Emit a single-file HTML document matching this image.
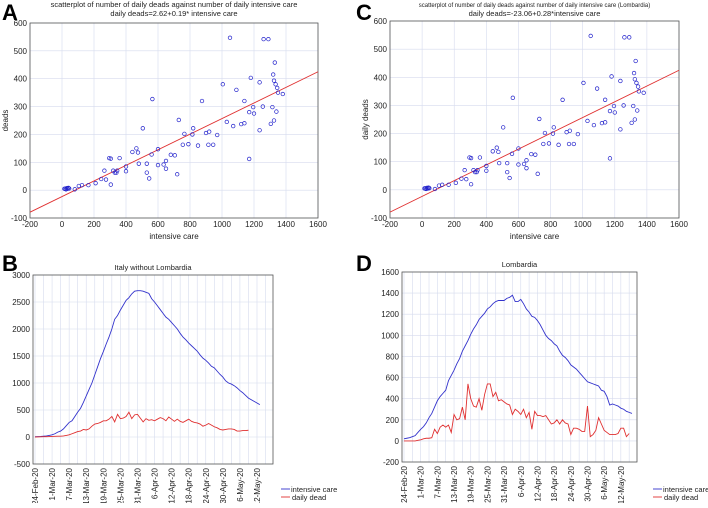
<!DOCTYPE html>
<html><head><meta charset="utf-8"><style>
body{margin:0;background:#fff;width:708px;height:503px;overflow:hidden}
svg{font-family:"Liberation Sans",sans-serif}
</style></head><body>
<svg id="s" width="708" height="503" viewBox="0 0 708 503" xmlns="http://www.w3.org/2000/svg">
<text x="2" y="20" font-size="22" font-weight="bold">A</text>
<text x="356" y="20" font-size="22" font-weight="bold">C</text>
<text x="2" y="271" font-size="22" font-weight="bold">B</text>
<text x="356" y="271" font-size="22" font-weight="bold">D</text>
</svg>
<script>
const scatterX=[15,20,25,30,35,40,45,80,105,125,165,210,245,265,275,295,305,305,320,330,340,345,360,400,400,440,465,475,480,505,530,530,545,560,565,600,600,635,650,650,680,705,720,730,755,765,790,815,820,850,875,900,915,920,945,970,1005,1030,1050,1070,1090,1120,1140,1140,1170,1170,1180,1195,1200,1235,1235,1255,1260,1290,1305,1315,1320,1325,1325,1330,1335,1340,1345,1350,1380];
const scatterY=[5,5,3,7,5,8,6,3,15,18,18,25,40,70,38,115,113,20,70,63,63,70,115,85,68,137,150,135,95,222,95,63,42,128,327,147,90,92,105,77,127,125,57,252,163,202,165,200,222,160,320,205,163,210,163,198,380,245,547,230,360,237,240,320,280,112,403,298,275,387,215,300,542,542,238,298,415,250,393,458,380,282,367,350,345];
const fitA=-23.06, fitB=0.28;
const dateLabels=["24-Feb-20","1-Mar-20","7-Mar-20","13-Mar-20","19-Mar-20","25-Mar-20","31-Mar-20","6-Apr-20","12-Apr-20","18-Apr-20","24-Apr-20","30-Apr-20","6-May-20","12-May-20"];
const italyIC=[5,8,10,15,20,30,40,60,90,110,150,210,270,300,380,460,530,640,760,880,1000,1150,1300,1450,1580,1720,1850,2000,2180,2250,2350,2440,2530,2580,2650,2700,2710,2710,2700,2680,2660,2560,2500,2430,2360,2290,2220,2180,2120,2060,2000,1920,1850,1800,1740,1690,1640,1590,1520,1460,1420,1370,1310,1280,1220,1160,1110,1040,1000,980,950,910,860,820,770,720,690,660,630,600];
const italyDead=[0,2,3,5,5,8,10,12,15,15,20,30,40,60,80,100,110,140,130,150,200,240,250,270,300,300,330,380,280,420,340,350,380,460,340,410,420,350,280,340,310,320,300,330,360,340,300,370,330,290,330,290,270,300,330,290,270,260,240,200,220,250,220,190,170,140,130,140,150,150,140,110,110,120,120,125];
const lomIC=[20,25,30,40,50,80,110,135,170,220,260,320,380,420,450,480,570,620,670,730,780,850,900,950,1010,1060,1100,1150,1180,1210,1250,1270,1300,1320,1330,1330,1330,1350,1360,1380,1320,1320,1340,1300,1250,1220,1180,1170,1140,1100,1050,1000,970,950,920,900,850,810,790,760,720,700,680,650,620,590,560,550,540,530,520,480,470,420,340,350,340,330,310,300,280,270,260];
const lomDead=[0,0,0,0,0,5,10,20,25,25,30,110,70,130,150,130,150,80,250,200,210,320,200,540,400,330,320,400,290,440,540,540,420,460,380,390,370,350,340,250,300,280,250,300,220,270,110,280,240,240,230,240,200,160,170,200,160,200,170,160,60,120,120,110,90,90,330,40,60,100,220,160,100,80,60,60,60,70,120,120,40,70];

const NS="http://www.w3.org/2000/svg";
const svg=document.getElementById('s');
const GRID='#d6dbee';
function mk(tag,attrs,parent){const e=document.createElementNS(NS,tag);for(const k in attrs)e.setAttribute(k,attrs[k]);(parent||svg).appendChild(e);return e;}
function txt(x,y,s,size,anchor,parent){const t=mk('text',{x:x,y:y,'font-size':size,'text-anchor':anchor||'middle',fill:'#222'},parent);t.textContent=s;return t;}

function scatterPanel(id,L,R,T,B,title1,title2,ylab,t1size){
  const g=mk('g',{});
  
  
  const sx=v=>L+(v+200)/1800*(R-L), sy=v=>B-(v+100)/700*(B-T);
  for(let v=-200;v<=1600;v+=200){mk('line',{x1:sx(v),x2:sx(v),y1:T,y2:B,stroke:GRID,'stroke-width':0.6},g);
    const t=txt(sx(v),B+9,String(v),8,'middle',g);}
  for(let v=-100;v<=600;v+=100){mk('line',{x1:L,x2:R,y1:sy(v),y2:sy(v),stroke:GRID,'stroke-width':0.6},g);
    const t=txt(L-3,sy(v)+3,String(v),8,'end',g);}
  const fr=mk('rect',{x:L,y:T,width:R-L,height:B-T,fill:'none',stroke:'#555','stroke-width':0.8},g);
  
  const fl=mk('line',{x1:sx(-200),y1:sy(fitA+fitB*-200),x2:sx(1600),y2:sy(fitA+fitB*1600),stroke:'#e03030','stroke-width':0.9},g);
  
  scatterX.forEach((x,i)=>{const c=mk('circle',{cx:sx(x),cy:sy(scatterY[i]),r:1.8,fill:'none',stroke:'#2222cc','stroke-width':0.7},g);
    });
  let t=txt((L+R)/2,7,title1,t1size,'middle',g);
  t=txt((L+R)/2,16,title2,7.5,'middle',g);
  t=txt((L+R)/2,B+21,'intensive care',8,'middle',g);
  t=txt(0,0,ylab,8,'middle',g);t.setAttribute('transform','translate('+(L-22)+','+((T+B)/2)+') rotate(-90)');
  
}
scatterPanel('scatter-panel-a',30,318,23,218,'scatterplot of number of daily deads against number of daily intensive care','daily deads=2.62+0.19* intensive care','deads',7.5);
scatterPanel('scatter-panel-c',390,679,21,218,'scatterplot of number of daily deads against number of daily intensive care (Lombardia)','daily deads=-23.06+0.28*intensive care','daily deads',6);

function linePanel(id,L,R,T,B,x0,pxDay,ymin,ymax,ystep,title,ic,dead,legX,nLabels){
  const g=mk('g',{});
  
  
  const sx=d=>x0+d*pxDay, sy=v=>B-(v-ymin)/(ymax-ymin)*(B-T);
  for(let d=0;sx(d)<R;d+=3){mk('line',{x1:sx(d),x2:sx(d),y1:T,y2:B,stroke:GRID,'stroke-width':0.6},g);}
  for(let v=ymin;v<=ymax;v+=ystep){mk('line',{x1:L,x2:R,y1:sy(v),y2:sy(v),stroke:GRID,'stroke-width':0.6},g);
    const t=txt(L-3,sy(v)+3,String(v),8,'end',g);}
  dateLabels.slice(0,nLabels).forEach((s,i)=>{const t=txt(0,0,s,8,'end',g);t.setAttribute('transform','translate('+(sx(i*6)+3)+','+(B+4)+') rotate(-90)');
    });
  const fr=mk('rect',{x:L,y:T,width:R-L,height:B-T,fill:'none',stroke:'#555','stroke-width':0.8},g);
  
  const p1=mk('polyline',{points:ic.map((v,i)=>sx(i)+','+sy(v)).join(' '),fill:'none',stroke:'#3333cc','stroke-width':0.9},g);
  
  const p2=mk('polyline',{points:dead.map((v,i)=>sx(i)+','+sy(v)).join(' '),fill:'none',stroke:'#e03030','stroke-width':0.9},g);
  
  let t=txt((L+R)/2,T-5,title,7.5,'middle',g);
  const lg=mk('g',{},g);
  mk('line',{x1:legX,x2:legX+9,y1:489,y2:489,stroke:'#3333cc','stroke-width':0.9},lg);
  mk('line',{x1:legX,x2:legX+9,y1:497,y2:497,stroke:'#e03030','stroke-width':0.9},lg);
  t=txt(legX+10,492,'intensive care',7.5,'start',lg);
  t=txt(legX+11,500,'daily dead',7.5,'start',lg);
}
linePanel('line-panel-b',33,273,275,464,35,2.846,-500,3000,500,'Italy without Lombardia',italyIC,italyDead,281,14);
linePanel('line-panel-d',402,637,272,462,404,2.78,-200,1600,200,'Lombardia',lomIC,lomDead,653,14);
</script>
</body></html>
